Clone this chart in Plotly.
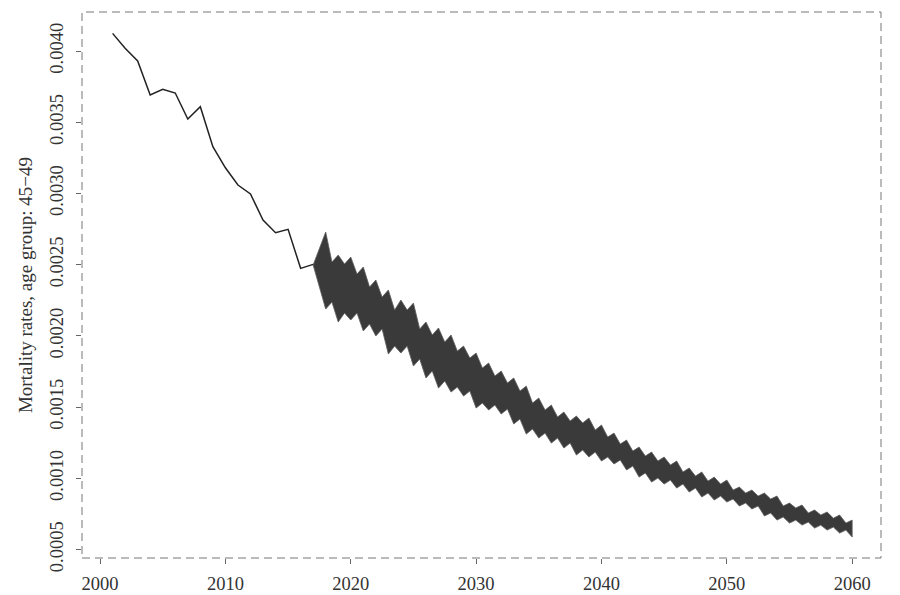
import plotly.graph_objects as go

# observed mortality rates, age group 45-49
hist_years = list(range(2001, 2018))
hist_rates = [0.004124, 0.004019, 0.003930, 0.003691, 0.003731, 0.003705,
              0.003522, 0.003609, 0.003328, 0.003180, 0.003059, 0.002996,
              0.002813, 0.002724, 0.002748, 0.002474, 0.002502]

# simulated paths: envelope of the fan, read at each year (2017-2060)
fan_years = list(range(2017, 2061))
fan_upper = [0.002497, 0.002729, 0.002567, 0.002553, 0.002483, 0.002392,
             0.002322, 0.002251, 0.002230, 0.002097, 0.002055, 0.002006,
             0.001928, 0.001879, 0.001809, 0.001753, 0.001704, 0.001647,
             0.001563, 0.001514, 0.001465, 0.001437, 0.001423, 0.001374,
             0.001317, 0.001268, 0.001219, 0.001184, 0.001149, 0.001121,
             0.001072, 0.001044, 0.001008, 0.000987, 0.000938, 0.000917,
             0.000896, 0.000875, 0.000826, 0.000812, 0.000777, 0.000763,
             0.000742, 0.000706]
fan_lower = [0.002497, 0.002188, 0.002097, 0.002111, 0.002034, 0.001999,
             0.001872, 0.001879, 0.001788, 0.001704, 0.001633, 0.001605,
             0.001577, 0.001493, 0.001479, 0.001451, 0.001381, 0.001310,
             0.001282, 0.001247, 0.001212, 0.001163, 0.001149, 0.001121,
             0.001100, 0.001058, 0.001008, 0.000973, 0.000959, 0.000931,
             0.000903, 0.000868, 0.000847, 0.000833, 0.000805, 0.000784,
             0.000735, 0.000706, 0.000685, 0.000671, 0.000650, 0.000636,
             0.000615, 0.000587]

# the jagged edges between years (2018.5 - 2059.5)
mid_years = [y + 0.5 for y in range(2018, 2060)]
mid_upper = [0.002518, 0.002504, 0.002434, 0.002343, 0.002272, 0.002181,
             0.002181, 0.002048, 0.002006, 0.001956, 0.001893, 0.001844,
             0.001774, 0.001718, 0.001669, 0.001612, 0.001528, 0.001479,
             0.001430, 0.001402, 0.001388, 0.001338, 0.001289, 0.001240,
             0.001191, 0.001156, 0.001121, 0.001093, 0.001044, 0.001015,
             0.000980, 0.000959, 0.000917, 0.000896, 0.000875, 0.000854,
             0.000805, 0.000791, 0.000756, 0.000742, 0.000720, 0.000685]
mid_lower = [0.002237, 0.002160, 0.002160, 0.002083, 0.002048, 0.001928,
             0.001928, 0.001837, 0.001753, 0.001683, 0.001640, 0.001612,
             0.001528, 0.001514, 0.001486, 0.001416, 0.001346, 0.001317,
             0.001282, 0.001247, 0.001198, 0.001184, 0.001149, 0.001128,
             0.001086, 0.001037, 0.001001, 0.000987, 0.000959, 0.000931,
             0.000896, 0.000875, 0.000854, 0.000826, 0.000805, 0.000756,
             0.000728, 0.000706, 0.000692, 0.000671, 0.000657, 0.000636]

x_ticks = [2000, 2010, 2020, 2030, 2040, 2050, 2060]
y_ticks = [0.0005, 0.0010, 0.0015, 0.0020, 0.0025, 0.0030, 0.0035, 0.0040]

FONT = "Liberation Serif, Times New Roman, serif"


def edge(years, yearly, mids, mid_vals):
    """Merge yearly knots and mid-year points into one ordered edge."""
    pts = list(zip(years, yearly)) + list(zip(mids, mid_vals))
    pts.sort(key=lambda p: p[0])
    return [p[0] for p in pts], [p[1] for p in pts]


ux, uy = edge(fan_years, fan_upper, mid_years, mid_upper)
lx, ly = edge(fan_years, fan_lower, mid_years, mid_lower)

fig = go.Figure()

fig.add_trace(go.Scatter(
    x=ux + lx[::-1],
    y=uy + ly[::-1],
    fill="toself",
    fillcolor="#3a3a3a",
    mode="lines",
    line=dict(color="#5c5c5c", width=0.8),
    hoverinfo="skip",
))

fig.add_trace(go.Scatter(
    x=hist_years,
    y=hist_rates,
    mode="lines",
    line=dict(color="#222222", width=1.5),
))

axis_common = dict(
    showgrid=False,
    zeroline=False,
    showline=False,
    ticks="outside",
    ticklen=5,
    tickcolor="#666666",
    tickfont=dict(family=FONT, size=18.5, color="#333333"),
)

fig.update_xaxes(
    range=[1998.56, 2062.3],
    tickvals=x_ticks,
    ticklabelstandoff=4,
    **axis_common,
)
fig.update_yaxes(
    range=[0.000440, 0.004274],
    tickvals=y_ticks,
    tickformat=".4f",
    tickangle=-90,
    ticklabelstandoff=6,
    title=dict(text="Mortality rates, age group: 45\u221249",
               font=dict(family=FONT, size=19, color="#333333"),
               standoff=8),
    **axis_common,
)

# dashed box round the plot area
fig.add_shape(type="rect", xref="paper", yref="paper", x0=0, y0=0, x1=1, y1=1,
              line=dict(color="#777777", width=1, dash="8px,5px"))

fig.update_layout(
    width=900,
    height=595,
    margin=dict(l=74, r=27, t=4, b=45),
    plot_bgcolor="white",
    paper_bgcolor="white",
    showlegend=False,
)

fig.write_html("out.html")
